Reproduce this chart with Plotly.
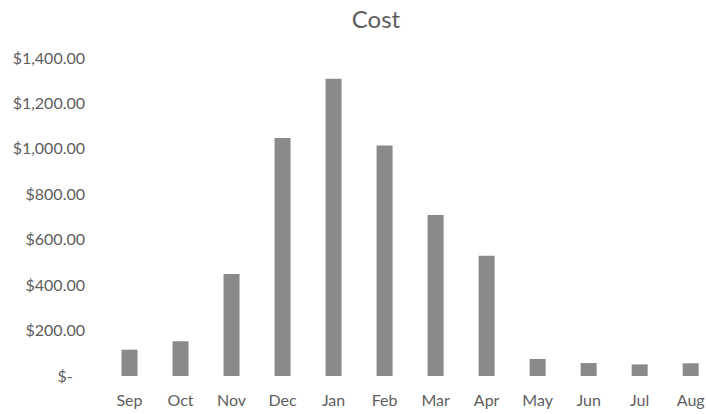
import plotly.graph_objects as go

months = ["Sep", "Oct", "Nov", "Dec", "Jan", "Feb", "Mar", "Apr", "May", "Jun", "Jul", "Aug"]
cost = [116, 153, 449, 1048, 1309, 1015, 709, 529, 75, 57, 51, 56]
y_ticks = [0, 200, 400, 600, 800, 1000, 1200, 1400]
# accounting-style labels: the zero dash sits padded in from the right edge
y_tick_labels = ["$-\u00a0\u00a0\u00a0", "$200.00", "$400.00", "$600.00", "$800.00",
                 "$1,000.00", "$1,200.00", "$1,400.00"]

font_family = "Lato, 'Open Sans', sans-serif"
text_grey = "#5e5e5e"

fig = go.Figure(
    go.Bar(
        x=list(range(len(months))),
        y=cost,
        marker=dict(color="#8a8a8a", line=dict(width=0)),
    )
)

fig.update_layout(
    width=706,
    height=414,
    margin=dict(l=104, r=0, t=58, b=38),
    paper_bgcolor="white",
    plot_bgcolor="white",
    bargap=0.686,
    showlegend=False,
    title=dict(
        text="Cost",
        x=376 / 706,
        xanchor="center",
        y=1 - 20 / 414,
        yanchor="middle",
        font=dict(family=font_family, size=24, color=text_grey),
    ),
    font=dict(family=font_family, color=text_grey),
)

fig.update_xaxes(
    range=[-0.5, 11.3],
    tickmode="array",
    tickvals=list(range(len(months))),
    ticktext=months,
    showgrid=False,
    showline=False,
    zeroline=False,
    ticks="",
    tickfont=dict(size=16, color=text_grey),
    ticklabelstandoff=13,
)

fig.update_yaxes(
    range=[0, 1400],
    tickmode="array",
    tickvals=y_ticks,
    ticktext=y_tick_labels,
    showgrid=False,
    showline=False,
    zeroline=False,
    ticks="",
    tickfont=dict(size=16, color=text_grey),
    ticklabelstandoff=18,
)

fig.write_html("out.html")
